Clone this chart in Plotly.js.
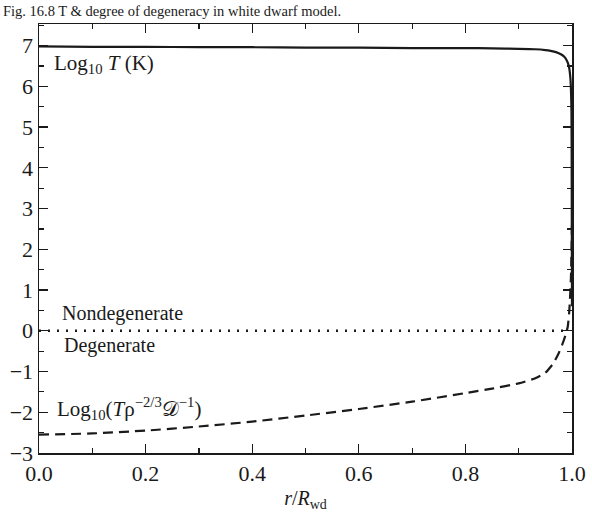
<!DOCTYPE html>
<html>
<head>
<meta charset="utf-8">
<script src="https://cdn.plot.ly/plotly-3.0.1.min.js"></script>
<style>html,body{margin:0;padding:0;background:#fff;}#plot{width:592px;height:514px;}</style>
</head>
<body>
<div id="plot"></div>
<script>
// Temperature curve: log10 T vs r/R_wd
const rT = [0, 0.1, 0.2, 0.3, 0.4, 0.5, 0.6, 0.7, 0.8, 0.85, 0.9, 0.93, 0.95, 0.96, 0.97, 0.98, 0.985, 0.99, 0.994, 0.997, 0.999, 0.9995, 1.0];
const logT = [6.98, 6.97, 6.97, 6.96, 6.96, 6.95, 6.95, 6.94, 6.94, 6.93, 6.92, 6.91, 6.89, 6.87, 6.84, 6.78, 6.73, 6.64, 6.5, 6.2, 5.4, 3.5, 0.6];
// Degeneracy parameter curve
const rD = [0, 0.1, 0.2, 0.3, 0.4, 0.5, 0.6, 0.7, 0.8, 0.85, 0.9, 0.93, 0.95, 0.965, 0.975, 0.982, 0.988, 0.992, 0.995, 0.998, 1.0];
const logDeg = [-2.55, -2.52, -2.45, -2.35, -2.23, -2.08, -1.92, -1.74, -1.53, -1.42, -1.29, -1.17, -1.03, -0.8, -0.55, -0.33, -0.1, 0.1, 0.5, 1.3, 2.6];
// Degeneracy boundary
const rB = [0, 0.99];
const boundary = [0, 0];

const serif = "Liberation Serif, Times New Roman, serif";
const ink = "#1a1a1a";

const traces = [
  {x: rT, y: logT, mode: "lines", line: {color: ink, width: 2.2, shape: "spline", smoothing: 0.5}, hoverinfo: "skip"},
  {x: rD, y: logDeg, mode: "lines", line: {color: ink, width: 2.2, dash: "10px,6px", shape: "spline", smoothing: 0.5}, hoverinfo: "skip"},
  {x: rB, y: boundary, mode: "lines", line: {color: ink, width: 2.6, dash: "2px,7px"}, hoverinfo: "skip"}
];

const layout = {
  width: 592, height: 514,
  margin: {l: 39, r: 20, t: 24, b: 61},
  paper_bgcolor: "#fff", plot_bgcolor: "#fff",
  showlegend: false,
  font: {family: serif, color: ink, size: 20},
  title: {
    text: "Fig. 16.8 T &amp; degree of degeneracy in white dwarf model.",
    font: {family: serif, size: 14.5, color: ink},
    xref: "container", x: 0.005, xanchor: "left",
    yref: "container", y: 0.979, yanchor: "middle"
  },
  xaxis: {
    range: [0, 1], dtick: 0.2, tick0: 0, tickformat: ".1f",
    ticks: "inside", ticklen: 9, tickwidth: 1.3, tickcolor: ink,
    minor: {dtick: 0.1, ticks: "inside", ticklen: 5, tickwidth: 1.2, tickcolor: ink, showgrid: false},
    showline: true, linecolor: ink, linewidth: 1.5, mirror: "ticks",
    showgrid: false, zeroline: false,
    tickfont: {family: serif, size: 22, color: ink},
    title: {text: "<i>r</i>/<i>R</i><sub>wd</sub>", font: {family: serif, size: 20, color: ink}, standoff: 6}
  },
  yaxis: {
    range: [-3, 7.53], dtick: 1, tick0: 0,
    ticks: "inside", ticklen: 9, tickwidth: 1.3, tickcolor: ink,
    minor: {dtick: 0.5, ticks: "inside", ticklen: 5, tickwidth: 1.2, tickcolor: ink, showgrid: false},
    showline: true, linecolor: ink, linewidth: 1.5, mirror: "ticks",
    showgrid: false, zeroline: false,
    tickfont: {family: serif, size: 22, color: ink}
  },
  annotations: [
    {x: 0.024, y: 6.55, xref: "x", yref: "y", xanchor: "left", yanchor: "middle", showarrow: false,
     text: "Log<sub>10</sub> <i>T</i> (K)", font: {family: serif, size: 21, color: ink}},
    {x: 0.04, y: 0.43, xref: "x", yref: "y", xanchor: "left", yanchor: "middle", showarrow: false,
     text: "Nondegenerate", font: {family: serif, size: 20, color: ink}},
    {x: 0.044, y: -0.37, xref: "x", yref: "y", xanchor: "left", yanchor: "middle", showarrow: false,
     text: "Degenerate", font: {family: serif, size: 20, color: ink}},
    {x: 0.03, y: -1.9, xref: "x", yref: "y", xanchor: "left", yanchor: "middle", showarrow: false,
     text: "Log<sub>10</sub>(<i>T</i>ρ<sup>−2/3</sup>𝒟<sup>−1</sup>)", font: {family: serif, size: 21, color: ink}}
  ]
};

Plotly.newPlot("plot", traces, layout, {staticPlot: true, displayModeBar: false});
</script>
</body>
</html>
